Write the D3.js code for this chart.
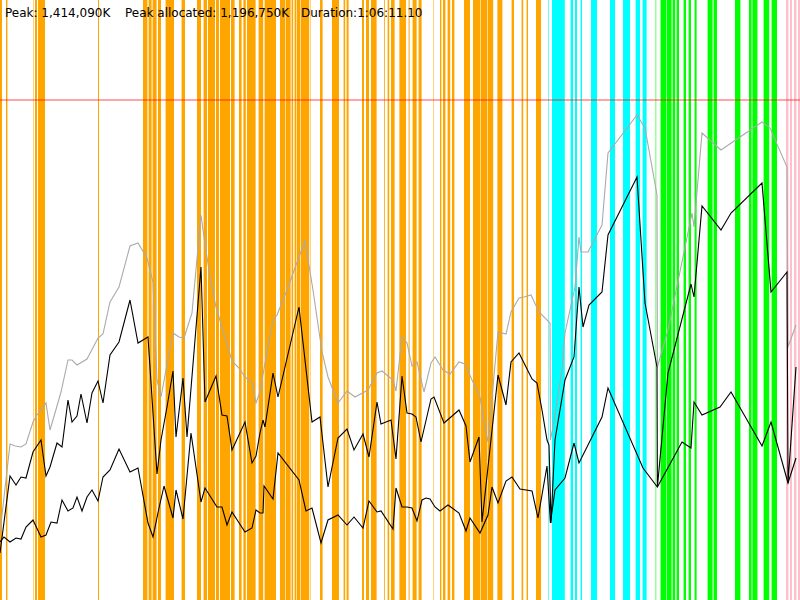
<!DOCTYPE html>
<html>
<head>
<meta charset="utf-8">
<script src="https://cdn.jsdelivr.net/npm/d3@7"></script>
<style>
  html, body { margin: 0; padding: 0; background: #fff; }
  svg { display: block; }
</style>
</head>
<body>
<div id="graph"></div>
<script>
// time in seconds, memory in MB
const durationLabel = 'Duration:1:06:11.10';
const peakLabel = 'Peak: 1,414,090K';
const peakAllocLabel = 'Peak allocated: 1,196,750K';
const maxHeap = 1500;

// pauses: [start, length]
const youngPauses = [
  [0,10],[30,7],[165,2.5],[175,10],[190,35],[490,5],[715,20],[738,4],[745,13],[763,20],
  [790,15],[828,42],[908,17],[985,20],[1018,17],[1040,35],[1080,15],[1100,50],[1155,18],
  [1195,13],[1217,12],[1235,43],[1293,23],[1323,57],[1400,27],[1430,23],[1458,8],[1473,7],
  [1483,17],[1503,43],[1550,2.5],[1600,13],[1660,35],[1718,8],[1733,10],[1810,10],[1830,15],
  [1855,28],[1920,4],[1938,8],[1955,18],[1997,33],[2043,5],[2063,20],[2093,15],[2167,2.5],
  [2200,7],[2215,12],[2238,13],[2260,12],[2320,30],[2365,35],[2403,32],[2438,28],[2487,25],
  [2558,12],[2608,8],[2633,7],[2680,25]
];
const concurrentPauses = [
  [2740,3],[2760,60],[2820,4],[2853,12],[2875,10],[2903,7],[2955,30],[3050,25],
  [3115,35],[3178,22],[3213,20]
];
const mixedPauses = [
  [3278,3],[3303,27],[3333,25],[3363,13],[3383,12],[3418,12],[3443,12],[3473,10],
  [3538,25],[3568,17],[3675,27],[3745,13],[3762,25],[3818,28],[3858,27]
];
const fullPauses = [
  [3930,12],[3950,10],[3970,12],[3990,10]
];

// heap size
const heapSize = [
  [0,201],[50,468],[75,462],[105,459],[130,468],[165,534],[185,555],[230,591],[250,510],
  [275,561],[305,624],[340,720],[360,720],[385,705],[435,723],[490,786],[515,798],[550,894],
  [595,939],[650,1062],[690,1071],[735,1026],[765,954],[785,660],[805,609],[830,690],[865,801],
  [895,789],[920,786],[960,861],[1005,1155],[1020,1089],[1050,969],[1080,879],[1160,717],
  [1190,699],[1230,666],[1260,654],[1280,591],[1300,624],[1325,711],[1365,840],[1385,855],
  [1435,930],[1480,1005],[1525,1077],[1565,930],[1610,744],[1640,669],[1690,591],[1735,627],
  [1775,609],[1840,630],[1885,681],[1910,687],[1965,660],[1980,627],[2010,789],[2035,771],
  [2060,702],[2085,714],[2120,624],[2155,711],[2175,729],[2215,690],[2250,678],[2295,714],
  [2325,708],[2360,660],[2400,609],[2420,534],[2440,474],[2490,804],[2530,798],[2555,864],
  [2595,906],[2620,909],[2655,915],[2695,864],[2750,831],[2752,480],[2765,519],[2810,690],
  [2825,801],[2875,939],[2895,1089],[2905,1044],[2940,1044],[3010,1125],[3040,1341],
  [3185,1455],[3225,1416],[3285,1215],[3287,699],[3340,810],[3460,1161],[3470,1119],
  [3510,1401],[3605,1350],[3810,1434],[3850,1416],[3935,1299],[3940,759],[3980,825]
];

// used before collection
const usedBefore = [
  [0,141],[50,372],[80,345],[105,369],[130,366],[165,444],[205,480],[230,372],[250,399],
  [285,471],[310,459],[340,600],[360,534],[385,552],[405,618],[435,531],[460,621],[490,657],
  [515,591],[550,735],[595,774],[650,900],[690,771],[740,789],[785,378],[805,480],[835,579],
  [865,687],[880,489],[915,666],[935,489],[1005,999],[1025,594],[1080,672],[1110,555],
  [1135,552],[1160,450],[1225,534],[1260,411],[1280,432],[1300,501],[1315,540],[1325,519],
  [1365,681],[1390,609],[1495,879],[1560,534],[1600,549],[1640,339],[1690,486],[1735,513],
  [1770,450],[1815,498],[1845,429],[1885,594],[1905,528],[1955,540],[1980,423],[2010,672],
  [2035,561],[2060,558],[2080,549],[2105,474],[2155,603],[2170,609],[2220,531],[2295,570],
  [2330,522],[2350,414],[2395,489],[2410,234],[2440,399],[2490,675],[2530,585],[2555,714],
  [2595,741],[2660,663],[2685,651],[2710,570],[2735,480],[2745,465],[2755,231],[2775,480],
  [2825,660],[2870,729],[2895,939],[2915,819],[2945,885],[3010,924],[3040,1095],[3185,1269],
  [3225,891],[3285,699],[3287,339],[3340,681],[3455,948],[3470,909],[3510,1182],[3605,1110],
  [3655,1161],[3810,1251],[3855,924],[3935,984],[3940,351],[3980,699]
];

// used after collection
const usedAfter = [
  [0,174],[20,189],[50,174],[80,186],[105,183],[130,219],[165,240],[205,189],[230,195],
  [255,234],[285,231],[310,300],[340,267],[365,276],[385,309],[410,267],[435,309],[460,330],
  [490,297],[515,369],[550,390],[595,453],[650,384],[690,396],[740,231],[765,189],[795,276],
  [820,342],[865,246],[880,330],[915,243],[955,501],[1005,294],[1025,336],[1085,279],
  [1110,279],[1135,225],[1160,264],[1225,204],[1260,216],[1280,270],[1300,261],[1315,261],
  [1320,342],[1365,303],[1390,441],[1495,360],[1530,267],[1560,276],[1605,171],[1640,240],
  [1690,255],[1735,225],[1770,249],[1815,216],[1845,297],[1885,264],[1905,267],[1965,213],
  [1980,336],[2010,279],[2035,279],[2060,276],[2085,237],[2110,300],[2130,306],[2150,303],
  [2175,279],[2200,267],[2240,285],[2295,261],[2330,207],[2350,246],[2400,201],[2440,255],
  [2460,339],[2490,291],[2530,357],[2560,369],[2600,333],[2660,327],[2690,246],[2735,402],
  [2752,231],[2775,330],[2825,366],[2870,471],[2895,411],[2940,465],[3010,549],[3040,636],
  [3215,396],[3287,339],[3410,474],[3455,456],[3470,594],[3510,555],[3600,579],[3655,624],
  [3810,462],[3855,534],[3940,351],[3980,426]
];

const width = 800, height = 600;

const svg = d3.select('#graph')
  .append('svg')
  .attr('width', width)
  .attr('height', height);

const x = d3.scaleLinear().domain([0, 4000]).range([0, width]);
const y = d3.scaleLinear().domain([0, 1800]).range([height, 0]);

// pause stripes
function stripes(data, color) {
  svg.append('g')
    .selectAll('rect')
    .data(data)
    .join('rect')
    .attr('x', d => x(d[0]))
    .attr('y', 0)
    .attr('width', d => x(d[0] + d[1]) - x(d[0]))
    .attr('height', height)
    .attr('fill', color);
}
stripes(youngPauses, '#ffa500');
stripes(concurrentPauses, '#00ffff');
stripes(mixedPauses, '#00ff00');
stripes(fullPauses, '#ffc0cb');

const line = d3.line()
  .x(d => x(d[0]))
  .y(d => y(d[1]));

svg.append('path')
  .datum(heapSize)
  .attr('d', line)
  .attr('fill', 'none')
  .attr('stroke', '#aaaaaa')
  .attr('stroke-width', 1.1);

svg.append('path')
  .datum(usedBefore)
  .attr('d', line)
  .attr('fill', 'none')
  .attr('stroke', '#000')
  .attr('stroke-width', 1.1);

svg.append('path')
  .datum(usedAfter)
  .attr('d', line)
  .attr('fill', 'none')
  .attr('stroke', '#000')
  .attr('stroke-width', 1.1);

// max heap line
svg.append('line')
  .attr('x1', 0)
  .attr('x2', width)
  .attr('y1', y(maxHeap))
  .attr('y2', y(maxHeap))
  .attr('stroke', '#ff0000')
  .attr('stroke-opacity', 0.7)
  .attr('stroke-width', 1);

// header
const header = svg.append('g')
  .attr('font-family', 'DejaVu Sans, sans-serif')
  .attr('font-size', '12px')
  .attr('fill', '#000');

header.append('text').attr('x', 5).attr('y', 17).text(peakLabel);
header.append('text').attr('x', 125).attr('y', 17).text(peakAllocLabel);
header.append('text').attr('x', 301).attr('y', 17).text(durationLabel);
</script>
</body>
</html>
